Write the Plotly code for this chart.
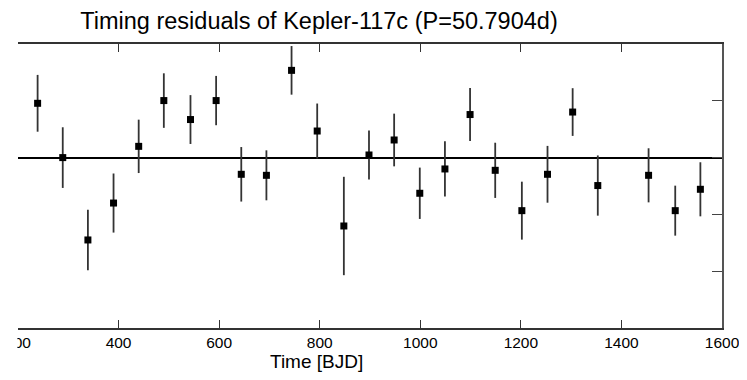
import plotly.graph_objects as go

# Transit times [BJD offset] and timing residuals [min]
times = [239, 289, 339, 390, 440, 490, 543, 594, 644, 694, 744, 795, 848,
         898, 948, 999, 1049, 1099, 1149, 1202, 1253, 1303, 1353, 1454, 1507, 1557]
residuals = [4.78, 0.0, -7.25, -4.0, 0.99, 5.02, 3.35, 5.02, -1.47, -1.56, 7.68,
             2.34, -6.02, 0.23, 1.55, -3.14, -1.0, 3.79, -1.12, -4.67, -1.47,
             4.01, -2.46, -1.56, -4.67, -2.79]
errors = [2.5, 2.67, 2.67, 2.6, 2.35, 2.4, 2.15, 2.17, 2.4, 2.2, 2.14, 2.42,
          4.33, 2.16, 2.32, 2.26, 2.43, 2.33, 2.43, 2.55, 2.5, 2.1, 2.65, 2.38,
          2.2, 2.38]
x_ticks = [200, 400, 600, 800, 1000, 1200, 1400, 1600]
y_ticks = [-15, -10, -5, 0, 5, 10]

title_text = "Timing residuals of Kepler-117c (P=50.7904d)"
x_label = "Time [BJD]"

fig = go.Figure()
fig.add_trace(go.Scatter(
    x=times, y=residuals, mode="markers",
    marker=dict(symbol="square", size=7, color="black"),
    error_y=dict(type="data", array=errors, visible=True, width=0,
                 thickness=1.8, color="#333333"),
    showlegend=False,
))

# page body has an 8px margin; size the figure so it fits the 747x380 window
OFF = 8
W, H = 747 - OFF, 380 - OFF
L, R, T, B = 18 - OFF, 25, 44 - OFF, 52
PW, PH = W - L - R, H - T - B

fig.update_layout(
    width=W, height=H,
    margin=dict(l=L, r=R, t=T, b=B, autoexpand=False),
    paper_bgcolor="white", plot_bgcolor="white",
    font=dict(family="Liberation Sans, Arial, sans-serif", color="black"),
    title=dict(text=title_text, x=(319 - OFF) / W, xref="container", xanchor="center",
               y=1 - (21 - OFF) / H, yref="container", yanchor="middle",
               font=dict(size=23.5, color="black")),
    xaxis=dict(range=[200, 1600], tickvals=x_ticks, ticks="inside", ticklen=8,
               tickwidth=1, tickcolor="#333333", showline=True, linecolor="#333333",
               linewidth=1.5, mirror="ticks", showgrid=False, zeroline=False,
               automargin=False, ticklabeloverflow="allow",
               tickfont=dict(size=15.5, color="black")),
    yaxis=dict(range=[-15, 10], tickvals=y_ticks, side="right", ticks="inside",
               ticklen=10, tickwidth=1, tickcolor="#444444", showline=True,
               linecolor="#555555", linewidth=2, mirror=False, showgrid=False,
               showticklabels=False, zeroline=True, zerolinecolor="black",
               zerolinewidth=1.5, automargin=False),
    annotations=[dict(text=x_label, xref="paper", yref="paper",
                      x=(316 - 18) / PW, y=-(361 - 327.7) / PH,
                      xanchor="center", yanchor="middle", showarrow=False,
                      font=dict(size=19, color="black"))],
    shapes=[dict(type="rect", xref="paper", yref="paper", layer="above",
                 x0=-0.2, x1=-0.6 / PW, y0=-0.5, y1=1.2,
                 fillcolor="white", line=dict(width=0))],
)

fig.write_html("out.html")
